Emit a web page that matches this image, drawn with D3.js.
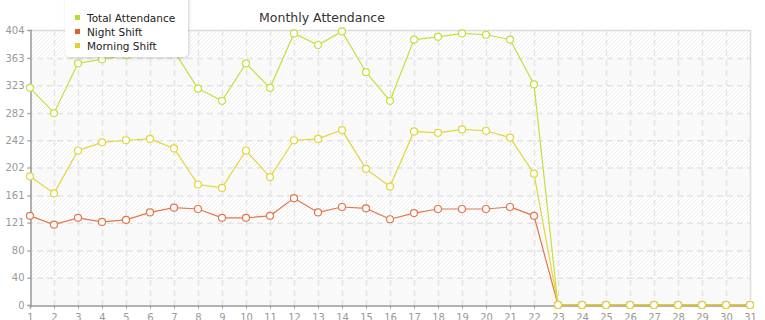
<!DOCTYPE html>
<html>
<head>
<meta charset="utf-8">
<script src="https://cdn.jsdelivr.net/npm/d3@7"></script>
<style>
    body { margin: 0; background: #fff; }
    svg { display: block; font-family: "DejaVu Sans", sans-serif; }
</style>
</head>
<body>
<div id="chart"></div>
<script>
var days = d3.range(1, 32);
var totalAttendance = [319, 282, 355, 361, 367, 380, 373, 318, 300, 355, 319, 399, 382, 402, 342, 300, 390, 394, 399, 397, 390, 324, 0, 0, 0, 0, 0, 0, 0, 0, 0];
var nightShift = [131, 118, 128, 122, 125, 136, 143, 141, 128, 128, 131, 157, 136, 144, 142, 126, 135, 141, 141, 141, 144, 131, 0, 0, 0, 0, 0, 0, 0, 0, 0];
var morningShift = [189, 164, 227, 239, 242, 244, 230, 177, 172, 227, 188, 242, 244, 257, 200, 174, 255, 253, 258, 256, 246, 193, 0, 0, 0, 0, 0, 0, 0, 0, 0];
var yTicks = [0, 40, 80, 121, 161, 202, 242, 282, 323, 363, 404];
var yMax = 404;

var series = [
    { name: "Total Attendance", values: totalAttendance, color: "#c6df3e", legend: "#bcdb2a" },
    { name: "Night Shift", values: nightShift, color: "#e3774a", legend: "#e0602a" },
    { name: "Morning Shift", values: morningShift, color: "#e2d63a", legend: "#e0d22a" }
];

var width = 765, height = 320;
var plot = { left: 30, right: 750, top: 30, bottom: 305 };

var svg = d3.select("#chart").append("svg")
    .attr("width", width)
    .attr("height", height);

var x = d3.scaleLinear().domain([1, 31]).range([plot.left, plot.right]);
var y = d3.scaleLinear().domain([0, yMax]).range([plot.bottom, plot.top]);

//hatch pattern for the plot background
var defs = svg.append("defs");
var hatch = defs.append("pattern")
    .attr("id", "hatch")
    .attr("patternUnits", "userSpaceOnUse")
    .attr("width", 4)
    .attr("height", 4);
hatch.append("rect").attr("width", 4).attr("height", 4).attr("fill", "#fff");
hatch.append("path")
    .attr("d", "M-1,1 l2,-2 M0,4 l4,-4 M3,5 l2,-2")
    .attr("stroke", "#efefef")
    .attr("stroke-width", 1);

var shadow = defs.append("filter").attr("id", "shadow")
    .attr("x", "-20%").attr("y", "-20%").attr("width", "140%").attr("height", "150%");
shadow.append("feDropShadow")
    .attr("dx", 1).attr("dy", 1).attr("stdDeviation", 1.5)
    .attr("flood-color", "#000").attr("flood-opacity", 0.18);

svg.append("rect")
    .attr("x", plot.left).attr("y", plot.top)
    .attr("width", plot.right - plot.left).attr("height", plot.bottom - plot.top)
    .attr("fill", "url(#hatch)");

//alternating light bands
var bands = d3.pairs(yTicks).filter(function (d, i) { return i % 2 === 0; });
svg.append("g").selectAll("rect")
    .data(bands)
    .enter()
    .append("rect")
    .attr("x", plot.left)
    .attr("width", plot.right - plot.left)
    .attr("y", function (d) { return y(d[1]); })
    .attr("height", function (d) { return y(d[0]) - y(d[1]); })
    .attr("fill", "#f9f9f9")
    .attr("opacity", 0.8);

//grid lines
var grid = svg.append("g")
    .attr("stroke", "#e4e4e4")
    .attr("stroke-width", 1.5)
    .attr("stroke-dasharray", "6,4");
grid.selectAll(".hgrid")
    .data(yTicks.slice(1, -1))
    .enter()
    .append("line")
    .attr("x1", plot.left - 3).attr("x2", plot.right)
    .attr("y1", function (d) { return y(d) + 0.5; })
    .attr("y2", function (d) { return y(d) + 0.5; });
grid.selectAll(".vgrid")
    .data(days.slice(1, -1))
    .enter()
    .append("line")
    .attr("y1", plot.top).attr("y2", plot.bottom)
    .attr("x1", function (d) { return x(d) + 0.5; })
    .attr("x2", function (d) { return x(d) + 0.5; });

//border on top and right
svg.append("path")
    .attr("d", "M" + plot.left + "," + (plot.top + 0.5) + "H" + (plot.right + 0.5) + "V" + plot.bottom)
    .attr("fill", "none")
    .attr("stroke", "#dcdcdc")
    .attr("stroke-width", 1.5);

//axes
var yAxis = svg.append("g")
    .attr("transform", "translate(" + (plot.left + 0.5) + ",0)")
    .call(d3.axisLeft(y).tickValues(yTicks).tickSize(3).tickPadding(3).tickFormat(d3.format("d")));
var xAxis = svg.append("g")
    .attr("transform", "translate(0," + (plot.bottom + 0.5) + ")")
    .call(d3.axisBottom(x).tickValues(days).tickSize(3).tickPadding(5).tickFormat(d3.format("d")));

[xAxis, yAxis].forEach(function (a) {
    a.select(".domain").attr("stroke", "#999").attr("stroke-width", 1.5);
    a.selectAll(".tick line").attr("stroke", "#999");
    a.selectAll("text")
        .attr("fill", "#999")
        .style("font-size", "10px")
        .style("font-family", "DejaVu Sans, sans-serif");
});

//lines and markers
var line = d3.line()
    .x(function (d, i) { return x(days[i]); })
    .y(function (d) { return y(d); });

series.forEach(function (s) {
    var g = svg.append("g");
    g.append("path")
        .datum(s.values)
        .attr("d", line)
        .attr("fill", "none")
        .attr("stroke", s.color)
        .attr("stroke-width", 1.2);
    g.selectAll("circle")
        .data(s.values)
        .enter()
        .append("circle")
        .attr("cx", function (d, i) { return x(days[i]); })
        .attr("cy", function (d) { return y(d); })
        .attr("r", 3.5)
        .attr("fill", "#fff")
        .attr("stroke", s.color)
        .attr("stroke-width", 1.2);
});

//title
svg.append("text")
    .attr("x", 322)
    .attr("y", 22)
    .attr("text-anchor", "middle")
    .attr("fill", "#333")
    .style("font-size", "12.5px")
    .text("Monthly Attendance");

//legend
var legend = svg.append("g");
legend.append("rect")
    .attr("x", 65).attr("y", -8)
    .attr("width", 123).attr("height", 65)
    .attr("rx", 5)
    .attr("fill", "#fff")
    .attr("filter", "url(#shadow)");
var items = legend.selectAll(".item")
    .data(series)
    .enter()
    .append("g")
    .attr("transform", function (d, i) { return "translate(75," + (18 + i * 14) + ")"; });
items.append("rect")
    .attr("x", 0).attr("y", -3)
    .attr("width", 5).attr("height", 5)
    .attr("fill", function (d) { return d.legend; });
items.append("text")
    .attr("x", 12)
    .attr("y", 0)
    .attr("dy", "0.35em")
    .attr("fill", "#222")
    .style("font-size", "10.5px")
    .text(function (d) { return d.name; });
</script>
</body>
</html>
